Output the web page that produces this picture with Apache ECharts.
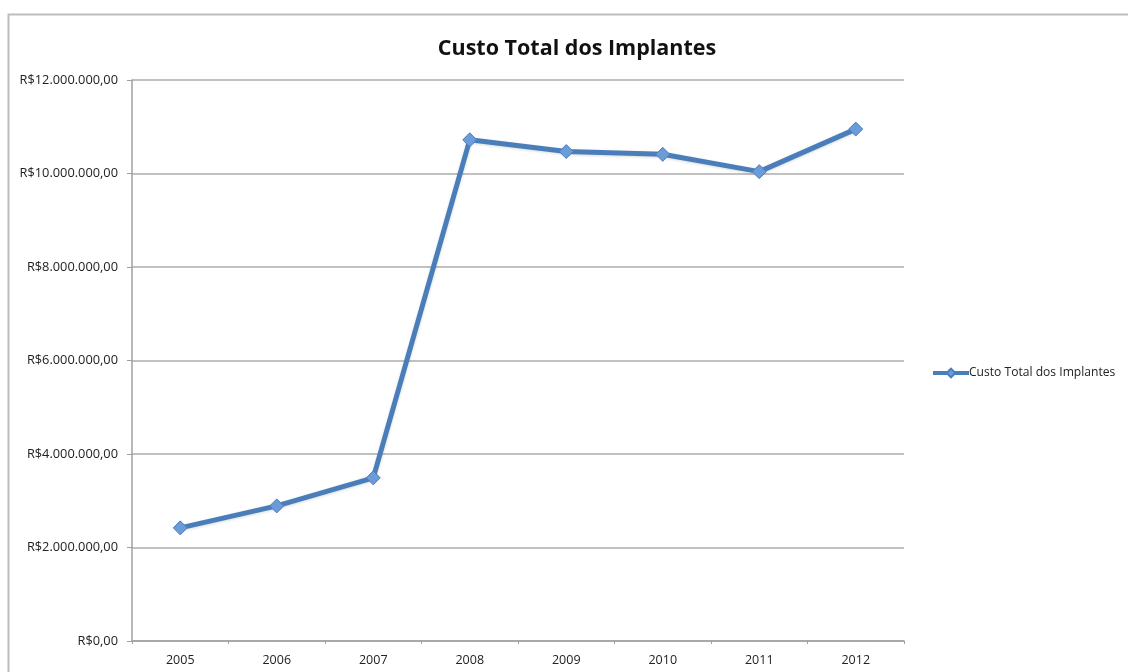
<!DOCTYPE html>
<html>
<head>
<meta charset="utf-8">
<script src="https://cdn.jsdelivr.net/npm/echarts@6/dist/echarts.min.js"></script>
<style>
  html, body { margin: 0; padding: 0; background: #fff; }
  #chart { width: 1128px; height: 672px; }
</style>
</head>
<body>
<div id="chart"></div>
<script>
// Custo total dos implantes por ano (R$)
const years = ['2005', '2006', '2007', '2008', '2009', '2010', '2011', '2012'];
const custoTotal = [2420000, 2890000, 3490000, 10720000, 10470000, 10410000, 10040000, 10950000];
const seriesName = 'Custo Total dos Implantes';
const yTicks = { min: 0, max: 12000000, interval: 2000000 };

function formatReal(v) {
  const inteiro = Math.round(v).toString().replace(/\B(?=(\d{3})+(?!\d))/g, '.');
  return 'R$' + inteiro + ',00';
}

const chart = echarts.init(document.getElementById('chart'));
const baseFont = '"Open Sans", "Liberation Sans", sans-serif';

chart.setOption({
  backgroundColor: '#ffffff',
  animation: false,
  title: {
    text: seriesName,
    left: 572,
    textAlign: 'center',
    top: 33,
    textStyle: { fontFamily: baseFont, fontWeight: 'bold', fontSize: 21.5, color: '#111' }
  },
  graphic: [{
    type: 'rect',
    left: 6, top: 12,
    shape: { width: 1200, height: 700 },
    style: { fill: 'none', stroke: '#bdbdbd', lineWidth: 2 },
    silent: true,
    z: -1
  }],
  legend: {
    data: [seriesName],
    left: 926,
    top: 362,
    itemWidth: 36,
    itemHeight: 11,
    itemGap: 0,
    lineStyle: { width: 4 },
    textStyle: { fontFamily: baseFont, fontSize: 12.1, color: '#222', padding: [0, 0, 0, -5] }
  },
  grid: { left: 132, right: 224, top: 80, bottom: 31 },
  xAxis: {
    type: 'category',
    data: years,
    boundaryGap: true,
    axisLine: { lineStyle: { color: '#a0a0a0', width: 1.5 } },
    axisTick: { show: true, length: 3, lineStyle: { color: '#a0a0a0' } },
    axisLabel: { fontFamily: baseFont, fontSize: 12.5, color: '#222', margin: 13 }
  },
  yAxis: {
    type: 'value',
    min: yTicks.min,
    max: yTicks.max,
    interval: yTicks.interval,
    axisLine: { show: true, lineStyle: { color: '#a0a0a0', width: 1.5 } },
    axisTick: { show: true, length: 5, lineStyle: { color: '#a0a0a0' } },
    splitLine: { show: true, lineStyle: { color: '#acacac', width: 1.5 } },
    axisLabel: { fontFamily: baseFont, fontSize: 12.8, color: '#222', margin: 14, formatter: formatReal }
  },
  series: [{
    name: seriesName,
    type: 'line',
    data: custoTotal,
    symbol: 'diamond',
    symbolSize: 14,
    showAllSymbol: true,
    lineStyle: { color: '#4a7ebb', width: 5, shadowColor: 'rgba(0,0,0,0.15)', shadowBlur: 3, shadowOffsetY: 1 },
    itemStyle: { color: '#6b9bd8', borderColor: '#4a7ebb', borderWidth: 1 }
  }]
});
</script>
</body>
</html>
